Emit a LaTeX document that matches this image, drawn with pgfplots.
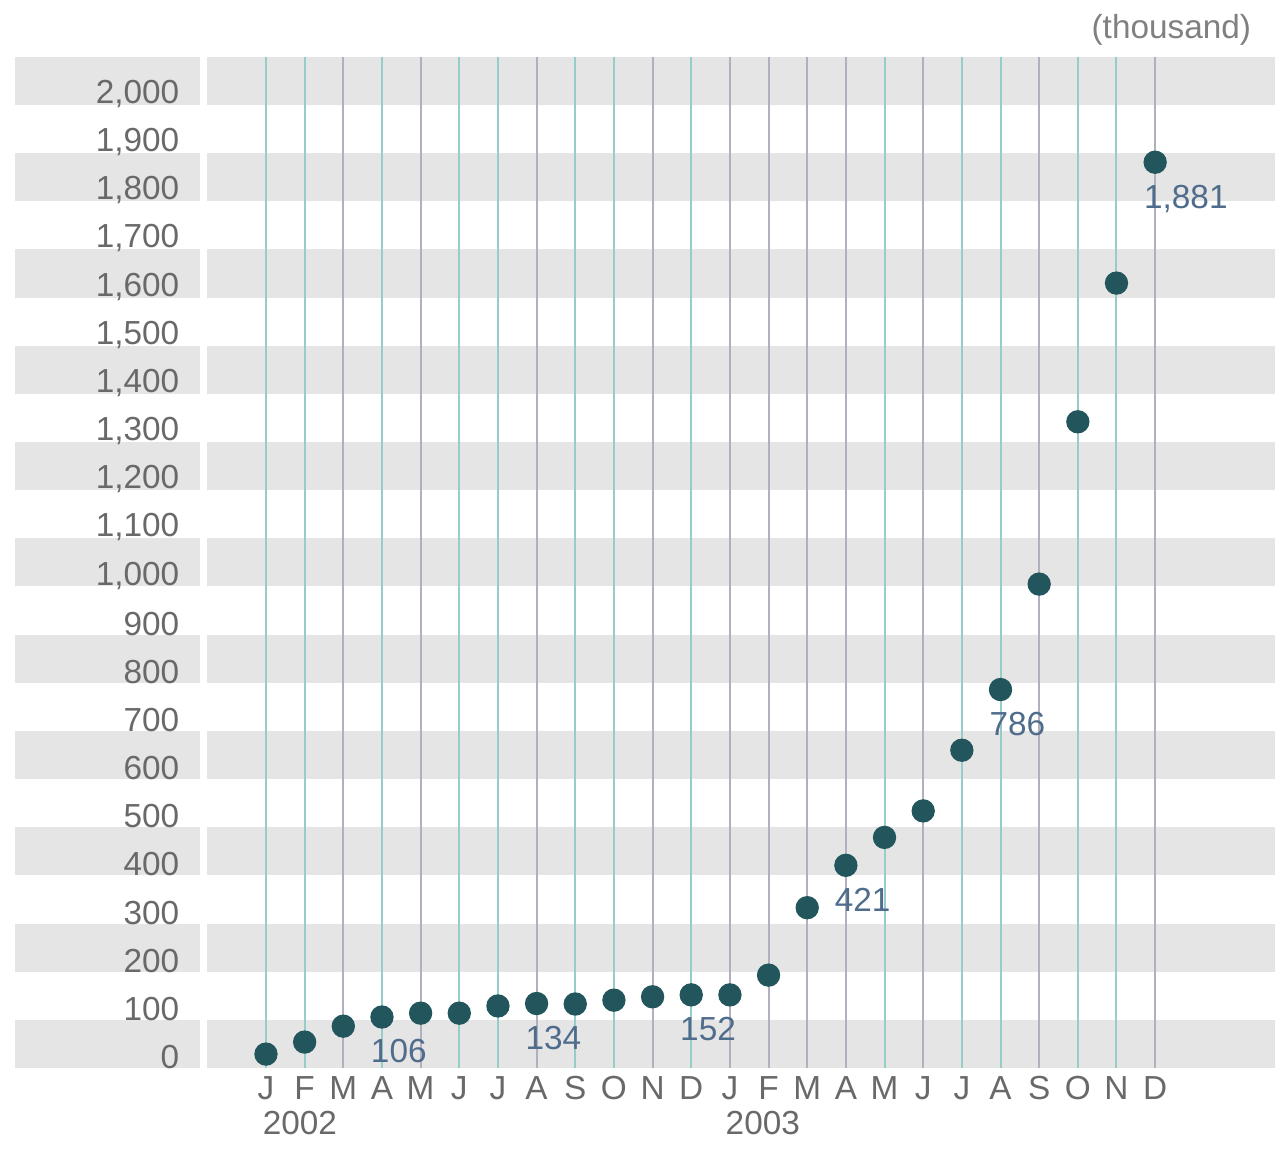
\documentclass[border=0pt]{standalone}
\usepackage{pgfplots}
\pgfplotsset{compat=1.18}
\usepackage{fontspec}
\setmainfont{Liberation Sans}

\definecolor{bandgray}{RGB}{229,229,229}
\definecolor{gridteal}{RGB}{150,205,200}
\definecolor{gridgray}{RGB}{178,176,190}
\definecolor{dotcol}{RGB}{34,86,92}
\definecolor{labcol}{RGB}{80,108,140}
\definecolor{tickcol}{RGB}{105,105,105}

\begin{document}
\begin{tikzpicture}
\begin{axis}[
    set layers=standard,
    scale only axis,
    width=320.4pt, height=303.39pt,
    xmin=-1.526, xmax=26.1,
    ymin=0, ymax=2100,
    clip=false,
    axis line style={draw=none},
    major tick length=0pt,
    xtick={0,...,23},
    xticklabels={J,F,M,A,M,J,J,A,S,O,N,D,J,F,M,A,M,J,J,A,S,O,N,D},
    extra x ticks={2,4,7,10,12,13,14,15,17,20,23},
    extra x tick labels={},
    extra x tick style={grid=major, major grid style={gridgray, line width=0.6pt}},
    xmajorgrids,
    major grid style={gridteal, line width=0.6pt},
    ytick={0,100,...,2000},
    scaled y ticks=false,
    /pgf/number format/.cd, 1000 sep={,}, assume math mode=true,
    /pgfplots/.cd,
    tick label style={font=\fontsize{10}{12}\selectfont, text=tickcol},
    yticklabel style={xshift=-4.8pt, yshift=3.3pt},
    xticklabel style={yshift=1pt},
]

% background bands
\begin{pgfonlayer}{axis background}
\pgfplotsinvokeforeach{0,...,10}{
  \fill[bandgray] (axis cs:-1.526,{200*#1}) rectangle (axis cs:26.1,{200*#1+100});
  \fill[bandgray] (axis cs:-6.494,{200*#1}) rectangle (axis cs:-1.7075,{200*#1+100});
}
\end{pgfonlayer}

% monthly values (thousand)
\addplot[only marks, mark=*, mark size=3.3pt, color=dotcol] coordinates {
  (0,29) (1,54) (2,87) (3,106) (4,114) (5,114) (6,129) (7,134)
  (8,133) (9,141) (10,148) (11,152) (12,152) (13,193) (14,333) (15,421)
  (16,479) (17,534) (18,660) (19,786) (20,1005) (21,1342) (22,1630) (23,1881)
};

% value labels
\addplot[draw=none, mark=none, nodes near coords,
  every node near coord/.append style={anchor=north west, inner sep=0pt,
    xshift=-3.5pt, yshift=-6.6pt, text=labcol, font=\fontsize{10}{12}\selectfont}]
  coordinates {(3,106) (7,134) (11,152) (15,421) (19,786) (23,1881)};

\node[anchor=west, inner sep=0pt, text=tickcol, font=\fontsize{10}{12}\selectfont]
  at (axis cs:-0.1,0) [yshift=-16.5pt] {2002};
\node[anchor=west, inner sep=0pt, text=tickcol, font=\fontsize{10}{12}\selectfont]
  at (axis cs:11.875,0) [yshift=-16.5pt] {2003};
\node[anchor=east, inner sep=0pt, text=tickcol!85, font=\fontsize{10}{12}\selectfont]
  at (rel axis cs:1,1) [xshift=-7pt, yshift=8pt] {(thousand)};

\coordinate (SW) at (rel axis cs:0,0);
\coordinate (NE) at (rel axis cs:1,1);
\end{axis}
\pgfresetboundingbox
\path ([xshift=-62.1pt, yshift=-25.8pt]SW) rectangle ([xshift=3.6pt, yshift=17.04pt]NE);
\end{tikzpicture}
\end{document}
